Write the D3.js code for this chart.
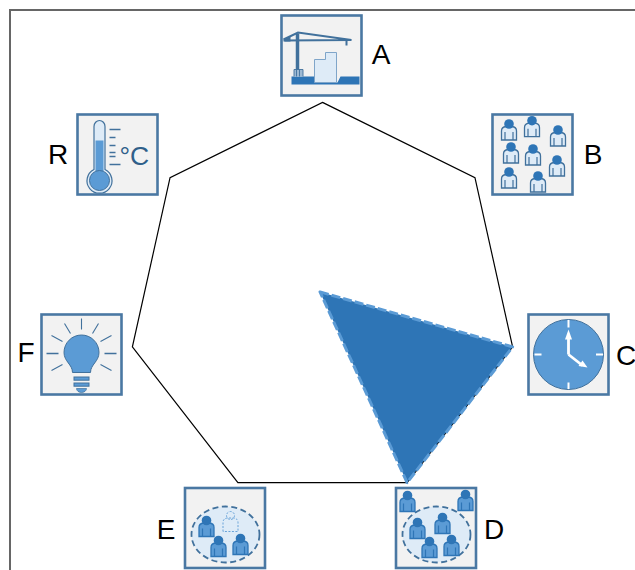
<!DOCTYPE html>
<html><head><meta charset="utf-8">
<script src="https://cdn.jsdelivr.net/npm/d3@7/dist/d3.min.js"></script>
<style>html,body{margin:0;padding:0;background:#fff}svg{display:block}</style>
</head><body><svg id="c" width="635" height="570"></svg>
<script>
// ---- data ----
const categories = ["A","B","C","D","E","F","R"];
const shapeAxisPositions = [-0.266, 2, 3];   // position round the axis ring
const shapeValues = [0.054, 1, 1];
const radarDomain = [0, 1];
const peopleB = [[16.5,9.5],[39.5,6.2],[65.5,15.5],[18.5,32.5],[40.5,34.5],[64.5,45.5],[16.5,57.5],[45.5,61.5]];
const peopleD = [[11.5,7.5],[69.5,6.5],[21.5,34.5],[46.5,29.5],[33.5,53.5],[55.5,51.5]];
const peopleE = [[21.5,32.5],[33.5,52.5],[55.5,50.5]];
const ghostE = [[45.5,27.5]];
const thermoTicks = [[15,11],[23,6],[31,6],[38,6],[42,6],[50,11]];

// ---- layout ----
const W=635,H=570, cx=322.5, cy=302.4;
const BLUE="#2e75b6", MID="#5b9bd5", PALE="#deebf7", EDGE="#41719c", BG="#f2f2f2";
const iconBoxes={A:[281.5,15.5],B:[492.5,114.5],C:[528.5,314.5],D:[396,488],E:[185,488],F:[41.5,314.5],R:[77.5,114.5]};
const labelAt={A:[381,54],B:[593,154],C:[626,355],D:[494,529],E:[166,529],F:[26,352],R:[58,154]};

const svg=d3.select("#c");
const rx=d3.scaleLinear().domain(radarDomain).range([0,195]);
const ry=d3.scaleLinear().domain(radarDomain).range([0,200]);
const ang=d3.scaleLinear().domain([0,categories.length]).range([0,2*Math.PI]);
const px=(p,v)=>cx+rx(v)*Math.sin(ang(p));
const py=(p,v)=>cy-ry(v)*Math.cos(ang(p));
const line=d3.line().curve(d3.curveLinearClosed);

// frame
svg.append("path").attr("d",`M10,${H}V10H${W}`).attr("fill","none").attr("stroke","#666").attr("stroke-width",2);

// outer ring
svg.append("path").attr("d",line(categories.map((c,i)=>[px(i,1),py(i,1)])))
  .attr("fill","#fff").attr("stroke","#000").attr("stroke-width",1.2);

// data shape
svg.append("path").attr("d",line(shapeAxisPositions.map((p,i)=>[px(p,shapeValues[i]),py(p,shapeValues[i])])))
  .attr("fill",BLUE).attr("stroke",MID).attr("stroke-width",3).attr("stroke-dasharray","9 3").attr("stroke-linejoin","round");

// labels
svg.selectAll("text.lab").data(categories).join("text").attr("class","lab")
  .attr("x",d=>labelAt[d][0]).attr("y",d=>labelAt[d][1]).attr("dy","0.36em")
  .attr("text-anchor","middle").attr("font-family","Liberation Sans, Arial, sans-serif")
  .attr("font-size",28).attr("fill","#000").text(d=>d);

// icon helpers
function person(g,[x,y],kind){
  const s=kind==="ghost"?{b:"none",h:"none",l:MID,d:"2 1.5",w:.9}
    :kind==="mid"?{b:MID,h:BLUE,l:BLUE,w:1.3}
    :{b:PALE,h:BLUE,l:EDGE,w:1.3};
  const p=g.append("g").attr("transform",`translate(${x},${y})`);
  p.append("path").attr("d","M-7.5,16V7Q-7.5,3 -3,2.5H3Q7.5,3 7.5,7V16Z")
    .attr("fill",s.b).attr("stroke",s.l).attr("stroke-width",s.w).attr("stroke-dasharray",s.d||null);
  if(kind!=="ghost"){
    p.append("path").attr("d","M-4,8V16M4,8V16").attr("stroke",s.l).attr("stroke-width",1.2);
  }
  p.append("circle").attr("r",kind==="ghost"?4:4.8).attr("fill",s.h).attr("stroke",kind==="ghost"?MID:"none")
    .attr("stroke-width",.9).attr("stroke-dasharray",s.d||null);
}
function groupEllipse(g){
  g.append("ellipse").attr("cx",40.5).attr("cy",46.5).attr("rx",34).attr("ry",28)
    .attr("fill",PALE).attr("stroke",EDGE).attr("stroke-width",1.8).attr("stroke-dasharray","6 3.5");
}
const draw={
  A(g){
    g.append("path").attr("d","M10,61H33L36,67H56L59,61H78V69H10Z").attr("fill",BLUE);
    g.append("path").attr("d","M33,44H44V37H55V67H33Z").attr("fill",PALE).attr("stroke","#7fa5c9").attr("stroke-width",1);
    g.append("path").attr("d","M16,18V55").attr("stroke",EDGE).attr("stroke-width",3.5);
    g.append("path").attr("d","M12.5,61V54H21.5V61M15,54V61M18,54V61").attr("fill","#9db9d3").attr("stroke",EDGE).attr("stroke-width",.9);
    g.append("path").attr("d","M2,24L16.5,17L70,24.5L3,25").attr("fill","none").attr("stroke",EDGE).attr("stroke-width",2);
    g.append("path").attr("d","M2,24L9,21V26H2Z").attr("fill",EDGE);
    g.append("path").attr("d","M65,25V30").attr("stroke",EDGE).attr("stroke-width",2);
  },
  B(g){ peopleB.forEach(p=>person(g,p,"light")); },
  C(g){
    g.append("circle").attr("cx",40).attr("cy",40).attr("r",35).attr("fill",MID).attr("stroke",EDGE).attr("stroke-width",1);
    g.append("path").attr("d","M40,5.5V13M40,68V74.5M6,40H13M67.5,40H74.5").attr("stroke","#fff").attr("stroke-width",2);
    g.append("path").attr("d","M40,40V24M40,40L54,51").attr("stroke","#fff").attr("stroke-width",2.8).attr("fill","none");
    g.append("path").attr("d","M40,15L43.5,25H36.5Z").attr("fill","#fff");
    g.append("path").attr("d","M59,53L50,51.5L54,46Z").attr("fill","#fff");
  },
  D(g){ groupEllipse(g); peopleD.forEach(p=>person(g,p,"mid")); },
  E(g){ groupEllipse(g); peopleE.forEach(p=>person(g,p,"mid")); ghostE.forEach(p=>person(g,p,"ghost")); },
  F(g){
    g.append("path").attr("d","M31,58C31,50 22.5,47 22.5,38A17.5,17.5 0 1 1 57.5,38C57.5,47 49,50 49,58Z")
      .attr("fill",MID).attr("stroke",EDGE).attr("stroke-width",1);
    g.append("rect").attr("x",32.5).attr("y",62.5).attr("width",15).attr("height",3.2).attr("fill",MID).attr("stroke",EDGE).attr("stroke-width",1);
    g.append("rect").attr("x",32.5).attr("y",68.5).attr("width",15).attr("height",3.2).attr("fill",MID).attr("stroke",EDGE).attr("stroke-width",1);
    g.append("path").attr("d","M35,74H45A5,4 0 0 1 35,74Z").attr("fill",MID).attr("stroke",EDGE).attr("stroke-width",.7);
    g.append("path").attr("d","M40,4V15M23,9L29,19M57,9L51,19M10,21L21,27M70,21L59,27M10,56L21,50M70,56L59,50")
      .attr("stroke",EDGE).attr("stroke-width",1.1);
    g.append("path").attr("d","M5,39H17M63,39H75").attr("stroke",EDGE).attr("stroke-width",1.7);
  },
  R(g){
    g.append("path").attr("d","M16.5,55V12A5.5,6 0 0 1 27.5,12V55A12.5,12.5 0 1 1 16.5,55Z")
      .attr("fill",PALE).attr("stroke",EDGE).attr("stroke-width",1.2);
    g.append("rect").attr("x",18).attr("y",26).attr("width",8).attr("height",34).attr("fill",MID);
    g.append("circle").attr("cx",22).attr("cy",66).attr("r",10).attr("fill",MID).attr("stroke",EDGE).attr("stroke-width",1);
    thermoTicks.forEach(([y,l])=>g.append("path").attr("d",`M32,${y}h${l}`).attr("stroke",EDGE).attr("stroke-width",1.5));
    g.append("text").attr("x",42).attr("y",50).attr("font-family","Liberation Sans, Arial, sans-serif")
      .attr("font-size",26.5).attr("fill","#2f5f8a").text("°C");
  }
};
const icons=svg.selectAll("g.icon").data(categories).join("g").attr("class","icon")
  .attr("transform",d=>`translate(${iconBoxes[d][0]},${iconBoxes[d][1]})`);
icons.append("rect").attr("width",80).attr("height",80).attr("fill",BG).attr("stroke","#4a78a3").attr("stroke-width",2.6);
icons.each(function(d){ draw[d](d3.select(this)); });
</script></body></html>
